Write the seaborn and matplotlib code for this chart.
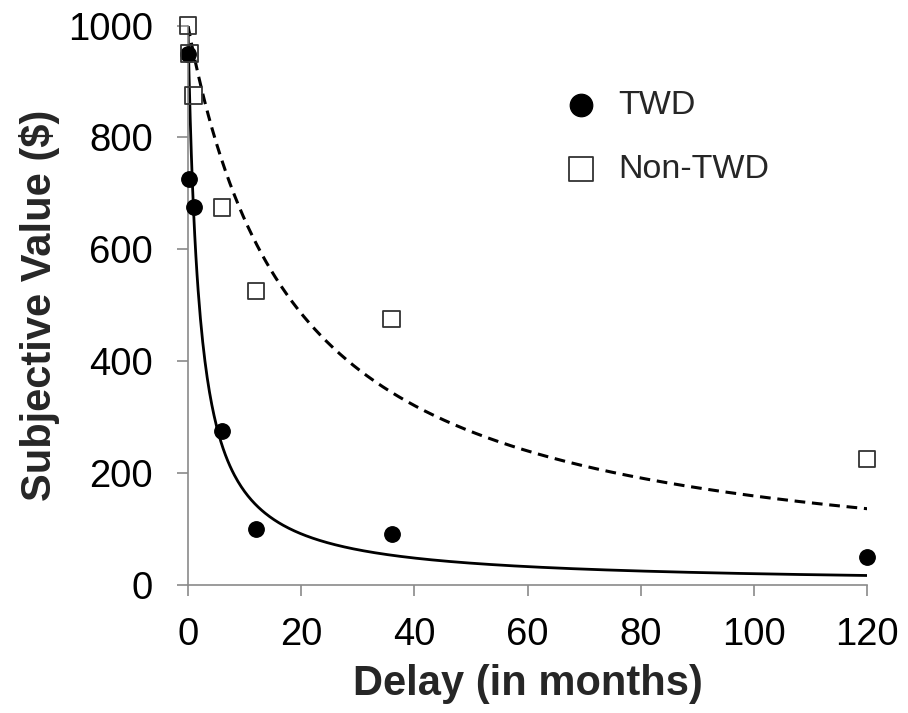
import numpy as np
import pandas as pd
import matplotlib
matplotlib.use("Agg")
import matplotlib.pyplot as plt
import seaborn as sns

# delays in months (1 day, 1 week, 1 month, 6 months, 1, 3 and 10 years)
delays = [0.03, 0.25, 1, 6, 12, 36, 120]
twd_values = [950, 725, 675, 275, 100, 90, 50]
non_twd_values = [1000, 950, 875, 675, 525, 475, 225]

# hyperbolic fits V = A / (1 + k*D)
amount = 1000
k_twd = 0.5
k_non_twd = 0.053

x_ticks = [0, 20, 40, 60, 80, 100, 120]
y_ticks = [0, 200, 400, 600, 800, 1000]

AXIS_GRAY = "#8a8a8a"


def hyperbolic(d, k):
    return amount / (1 + k * d)


def main():
    sns.set_style("white")
    plt.rcParams["font.family"] = ["Liberation Sans", "DejaVu Sans"]

    points = pd.DataFrame({
        "Delay": delays * 2,
        "Value": twd_values + non_twd_values,
        "Group": ["TWD"] * len(delays) + ["Non-TWD"] * len(delays),
    })
    grid = np.linspace(0, 120, 600)
    curves = pd.DataFrame({
        "Delay": np.concatenate([grid, grid]),
        "Value": np.concatenate([hyperbolic(grid, k_twd), hyperbolic(grid, k_non_twd)]),
        "Group": ["TWD"] * len(grid) + ["Non-TWD"] * len(grid),
    })

    fig = plt.figure(figsize=(9.08, 7.13), dpi=100)
    ax = fig.add_axes([0.207, 0.18, 0.748, 0.784])

    sns.lineplot(data=curves[curves.Group == "TWD"], x="Delay", y="Value",
                 color="black", lw=2.0, ax=ax, legend=False)
    sns.lineplot(data=curves[curves.Group == "Non-TWD"], x="Delay", y="Value",
                 color="black", lw=2.2, ax=ax, legend=False)
    ax.lines[1].set_dashes((3.5, 2.2))

    twd = points[points.Group == "TWD"]
    non = points[points.Group == "Non-TWD"]
    sns.scatterplot(data=twd, x="Delay", y="Value", marker="o", s=125,
                    color="black", edgecolor="black", ax=ax, label="TWD",
                    clip_on=False, zorder=3)
    sns.scatterplot(data=non, x="Delay", y="Value", marker="s", s=140,
                    facecolor="none", edgecolor="#333333", linewidth=1.3,
                    ax=ax, label="Non-TWD", clip_on=False, zorder=4)

    ax.set_xlim(0, 120)
    ax.set_ylim(0, 1000)
    ax.set_xticks(x_ticks)
    ax.set_yticks(y_ticks)
    sns.despine(ax=ax)
    for side in ["left", "bottom"]:
        ax.spines[side].set_color(AXIS_GRAY)
        ax.spines[side].set_linewidth(1.2)
    ax.tick_params(axis="both", direction="out", length=8, width=1.2,
                   color=AXIS_GRAY, labelsize=27.5, labelcolor="black",
                   bottom=True, left=True)
    ax.tick_params(axis="y", pad=17)
    ax.tick_params(axis="x", pad=15)

    ax.set_xlabel("Delay (in months)", fontsize=30, fontweight="bold", labelpad=8)
    ax.set_ylabel("Subjective Value ($)", fontsize=30, fontweight="bold", labelpad=6)

    ax.legend(loc="center left", bbox_to_anchor=(0.508, 0.80), frameon=False,
              fontsize=24.5, markerscale=1.45, handletextpad=0.6,
              labelspacing=0.95, handlelength=1.0)

    fig.savefig("out.png", dpi=100)


if __name__ == "__main__":
    main()
